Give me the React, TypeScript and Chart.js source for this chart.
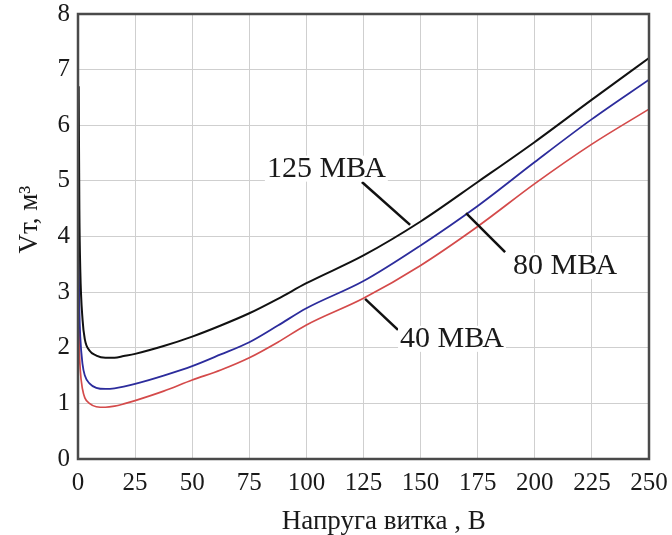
import React, { useEffect, useRef } from "react";
import { Chart, registerables } from "chart.js";

Chart.register(...registerables);

const voltage = [0.3, 0.6, 1, 2, 3, 5, 8, 12, 16, 20, 25, 37.5, 50, 62.5, 75, 87.5, 100, 125, 150, 175, 200, 225, 250];
const vol125 = [6.7, 4.5, 3.4, 2.5, 2.15, 1.95, 1.86, 1.82, 1.82, 1.85, 1.89, 2.03, 2.2, 2.4, 2.62, 2.88, 3.16, 3.66, 4.27, 4.98, 5.7, 6.46, 7.21];
const vol80 = [3.6, 2.7, 2.2, 1.7, 1.5, 1.36, 1.28, 1.26, 1.27, 1.3, 1.35, 1.5, 1.67, 1.88, 2.1, 2.4, 2.71, 3.2, 3.84, 4.55, 5.34, 6.11, 6.82];
const vol40 = [2.9, 2.0, 1.6, 1.25, 1.1, 1.0, 0.94, 0.93, 0.95, 0.99, 1.05, 1.22, 1.42, 1.6, 1.82, 2.1, 2.41, 2.89, 3.48, 4.18, 4.95, 5.66, 6.29];

const xTicks = [0, 25, 50, 75, 100, 125, 150, 175, 200, 225, 250];
const yTicks = [0, 1, 2, 3, 4, 5, 6, 7, 8];

const seriesNames = ["125 МВА", "80 МВА", "40 МВА"];
const labelX = [82.7, 190.5, 141];
const labelY = [5.22, 3.47, 2.16];
const leaderX1 = [124.3, 169.9, 125.7];
const leaderY1 = [4.98, 4.42, 2.88];
const leaderX2 = [145.4, 187, 140.1];
const leaderY2 = [4.21, 3.72, 2.32];

const xTitle = "\u00A0\u00A0\u00A0\u00A0\u00A0\u00A0Напруга витка , В";
const yTitle = "\u00A0\u00A0\u00A0\u00A0\u00A0Vт, м³";

const FONT = "'Liberation Serif', 'Times New Roman', serif";

const framePlugin = {
  id: "frameAndNotes",
  afterDatasetsDraw(chart: any) {
    const { ctx, chartArea, scales } = chart;
    const xs = scales.x;
    const ys = scales.y;
    ctx.save();
    ctx.strokeStyle = "#111";
    ctx.lineWidth = 2.5;
    for (let i = 0; i < seriesNames.length; i++) {
      ctx.beginPath();
      ctx.moveTo(xs.getPixelForValue(leaderX1[i]), ys.getPixelForValue(leaderY1[i]));
      ctx.lineTo(xs.getPixelForValue(leaderX2[i]), ys.getPixelForValue(leaderY2[i]));
      ctx.stroke();
    }
    ctx.font = `30px ${FONT}`;
    ctx.textAlign = "left";
    ctx.textBaseline = "middle";
    for (let i = 0; i < seriesNames.length; i++) {
      const px = xs.getPixelForValue(labelX[i]);
      const py = ys.getPixelForValue(labelY[i]);
      ctx.fillStyle = "#ffffff";
      const w = ctx.measureText(seriesNames[i]).width;
      ctx.fillRect(px - 2, py - 13, w + 4, 26);
      ctx.fillStyle = "#1a1a1a";
      ctx.fillText(seriesNames[i], px, py);
    }
    ctx.strokeStyle = "#4a4a4a";
    ctx.lineWidth = 2.5;
    ctx.strokeRect(chartArea.left, chartArea.top, chartArea.right - chartArea.left, chartArea.bottom - chartArea.top);
    ctx.restore();
  },
};

export default function App() {
  const canvasRef = useRef<HTMLCanvasElement | null>(null);

  useEffect(() => {
    document.body.style.margin = "0";
    const canvas = canvasRef.current;
    if (!canvas) return;
    const mk = (arr: number[]) => voltage.map((v, i) => ({ x: v, y: arr[i] }));
    const chart = new Chart(canvas, {
      type: "line",
      data: {
        datasets: [
          { label: seriesNames[0], data: mk(vol125), borderColor: "#111111", borderWidth: 2, pointRadius: 0, cubicInterpolationMode: "monotone", fill: false },
          { label: seriesNames[1], data: mk(vol80), borderColor: "#2c2c9c", borderWidth: 1.8, pointRadius: 0, cubicInterpolationMode: "monotone", fill: false },
          { label: seriesNames[2], data: mk(vol40), borderColor: "#d44a4a", borderWidth: 1.7, pointRadius: 0, cubicInterpolationMode: "monotone", fill: false },
        ],
      },
      options: {
        responsive: false,
        animation: false,
        devicePixelRatio: 1,
        layout: { padding: { top: 14, right: 23, left: 0, bottom: 0 } },
        plugins: { legend: { display: false }, tooltip: { enabled: false } },
        scales: {
          x: {
            type: "linear",
            min: 0,
            max: 250,
            afterFit: (s: any) => { s.height = 76; s.paddingLeft = 0; s.paddingRight = 0; },
            afterBuildTicks: (s: any) => { s.ticks = xTicks.map((v) => ({ value: v })); },
            grid: { color: "#cfcfcf", lineWidth: 1, drawTicks: false },
            border: { display: false },
            ticks: { color: "#1a1a1a", font: { family: FONT, size: 25 }, padding: 9, maxRotation: 0, autoSkip: false },
            title: { display: true, text: xTitle, color: "#1a1a1a", font: { family: FONT, size: 27, lineHeight: 0.9 }, padding: { top: 0, bottom: 0.5 } },
          },
          y: {
            type: "linear",
            min: 0,
            max: 8,
            afterFit: (s: any) => { s.width = 78; s.paddingTop = 0; s.paddingBottom = 0; },
            afterBuildTicks: (s: any) => { s.ticks = yTicks.map((v) => ({ value: v })); },
            grid: { color: "#cfcfcf", lineWidth: 1, drawTicks: false },
            border: { display: false },
            ticks: { color: "#1a1a1a", font: { family: FONT, size: 25 }, padding: 8 },
            title: { display: true, text: yTitle, color: "#1a1a1a", font: { family: FONT, size: 27, lineHeight: 1 }, padding: { top: 16, bottom: 0 } },
          },
        },
      },
      plugins: [framePlugin],
    } as any);
    return () => chart.destroy();
  }, []);

  return (
    <div style={{ width: 672, height: 535, background: "#fff" }}>
      <canvas ref={canvasRef} width={672} height={535} style={{ display: "block" }} />
    </div>
  );
}
